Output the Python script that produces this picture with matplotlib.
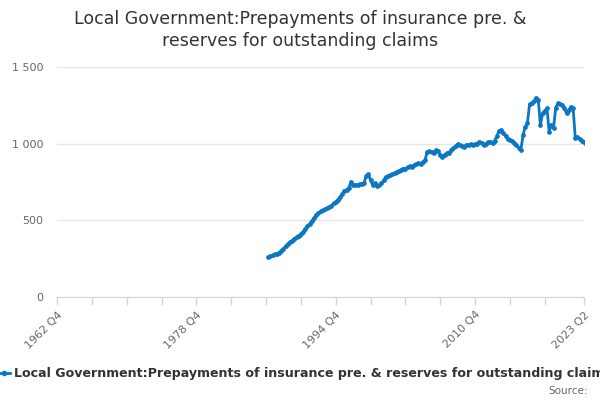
import matplotlib
matplotlib.use("Agg")
import matplotlib.pyplot as plt
from matplotlib.lines import Line2D

# Quarterly series, first value is 1987 Q1, last is 2023 Q2
first_quarter = "1987 Q1"
values = [
    259, 265, 272, 278, 283, 290, 302, 315, 330, 345, 358, 368,
    380, 392, 400, 412, 425, 445, 462, 478, 495, 515, 535, 548,
    558, 566, 572, 580, 585, 596, 610, 622, 635, 650, 672, 690,
    700, 712, 752, 730, 728, 733, 737, 740, 745, 790, 800, 762,
    730, 741, 724, 730, 741, 760, 784, 790, 795, 800, 808, 817,
    822, 830, 838, 836, 846, 852, 848, 858, 866, 872, 870, 880,
    893, 947, 950, 945, 941, 958, 950, 925, 915, 928, 937, 940,
    958, 970, 985, 996, 990, 985, 980, 990, 992, 996, 990, 996,
    1000, 1013, 1005, 991, 1000, 1010, 1013, 1006, 1020, 1050, 1084, 1090,
    1071, 1050, 1028, 1022, 1017, 1005, 991, 975, 958, 1056, 1110, 1132,
    1256, 1265, 1278, 1299, 1284, 1121, 1198, 1215, 1230, 1078, 1121, 1100,
    1234, 1263, 1258, 1252, 1230, 1198, 1220, 1241, 1234, 1035, 1045, 1030,
    1020, 1013, 995,
]

axis_start = "1962 Q4"
axis_end = "2023 Q2"
label_ticks = ["1962 Q4", "1978 Q4", "1994 Q4", "2010 Q4", "2023 Q2"]
y_ticks = [0, 500, 1000, 1500]
y_labels = ["0", "500", "1 000", "1 500"]

title = "Local Government:Prepayments of insurance pre. &\nreserves for outstanding claims"
series_name = "Local Government:Prepayments of insurance pre. & reserves for outstanding claims"


def qindex(s):
    y, q = s.split(" Q")
    return int(y) * 4 + int(q) - 1


base = qindex(axis_start)
start = qindex(first_quarter) - base
end = qindex(axis_end) - base
xs = list(range(start, start + len(values)))

blue = "#0a77c4"

fig = plt.figure(figsize=(6, 4), dpi=100)
ax = fig.add_axes([57 / 600, 1 - 297 / 400, (584 - 57) / 600, (297 - 67) / 400])

ax.plot(xs, values, color=blue, lw=2, marker="o", ms=2.4, mec=blue, mfc=blue,
        solid_joinstyle="round", zorder=3)

ax.set_xlim(0, end)
ax.set_ylim(0, 1500)

ticks = list(range(0, end - 10, 16)) + [end]
tick_labels = []
for t in ticks:
    yq = base + t
    lab = "%d Q%d" % (yq // 4, yq % 4 + 1)
    tick_labels.append(lab if lab in label_ticks else "")
ax.set_xticks(ticks)
ax.set_xticklabels(tick_labels, rotation=45, ha="right", va="top",
                   rotation_mode="anchor", fontsize=8, color="#666666")
ax.tick_params(axis="x", length=6, width=1, color="#ccd6eb", pad=3)

ax.set_yticks(y_ticks)
ax.set_yticklabels(y_labels, fontsize=8, color="#666666")
ax.tick_params(axis="y", length=0, pad=10)
ax.grid(axis="y", color="#e6e6e6", lw=1)
ax.set_axisbelow(True)

for side in ["top", "right", "left"]:
    ax.spines[side].set_visible(False)
ax.spines["bottom"].set_color("#ccd6eb")

fig.text(0.5, 1 - 30 / 400, title, ha="center", va="center", fontsize=12.5,
         color="#333333", linespacing=1.25)

# legend at the bottom (runs off the right edge like the original)
fig.lines.append(Line2D([-2 / 600, 10 / 600], [1 - 373 / 400] * 2,
                        transform=fig.transFigure, color=blue, lw=2))
fig.lines.append(Line2D([4 / 600], [1 - 373 / 400], transform=fig.transFigure,
                        color=blue, marker="o", ms=3))
fig.text(14 / 600, 1 - 373 / 400, series_name, ha="left", va="center",
         fontsize=9.1, fontweight="bold", color="#333333")
fig.text(588 / 600, 1 - 391 / 400, "Source:", ha="right", va="center",
         fontsize=7.5, color="#666666")

fig.savefig("out.png", dpi=100)
